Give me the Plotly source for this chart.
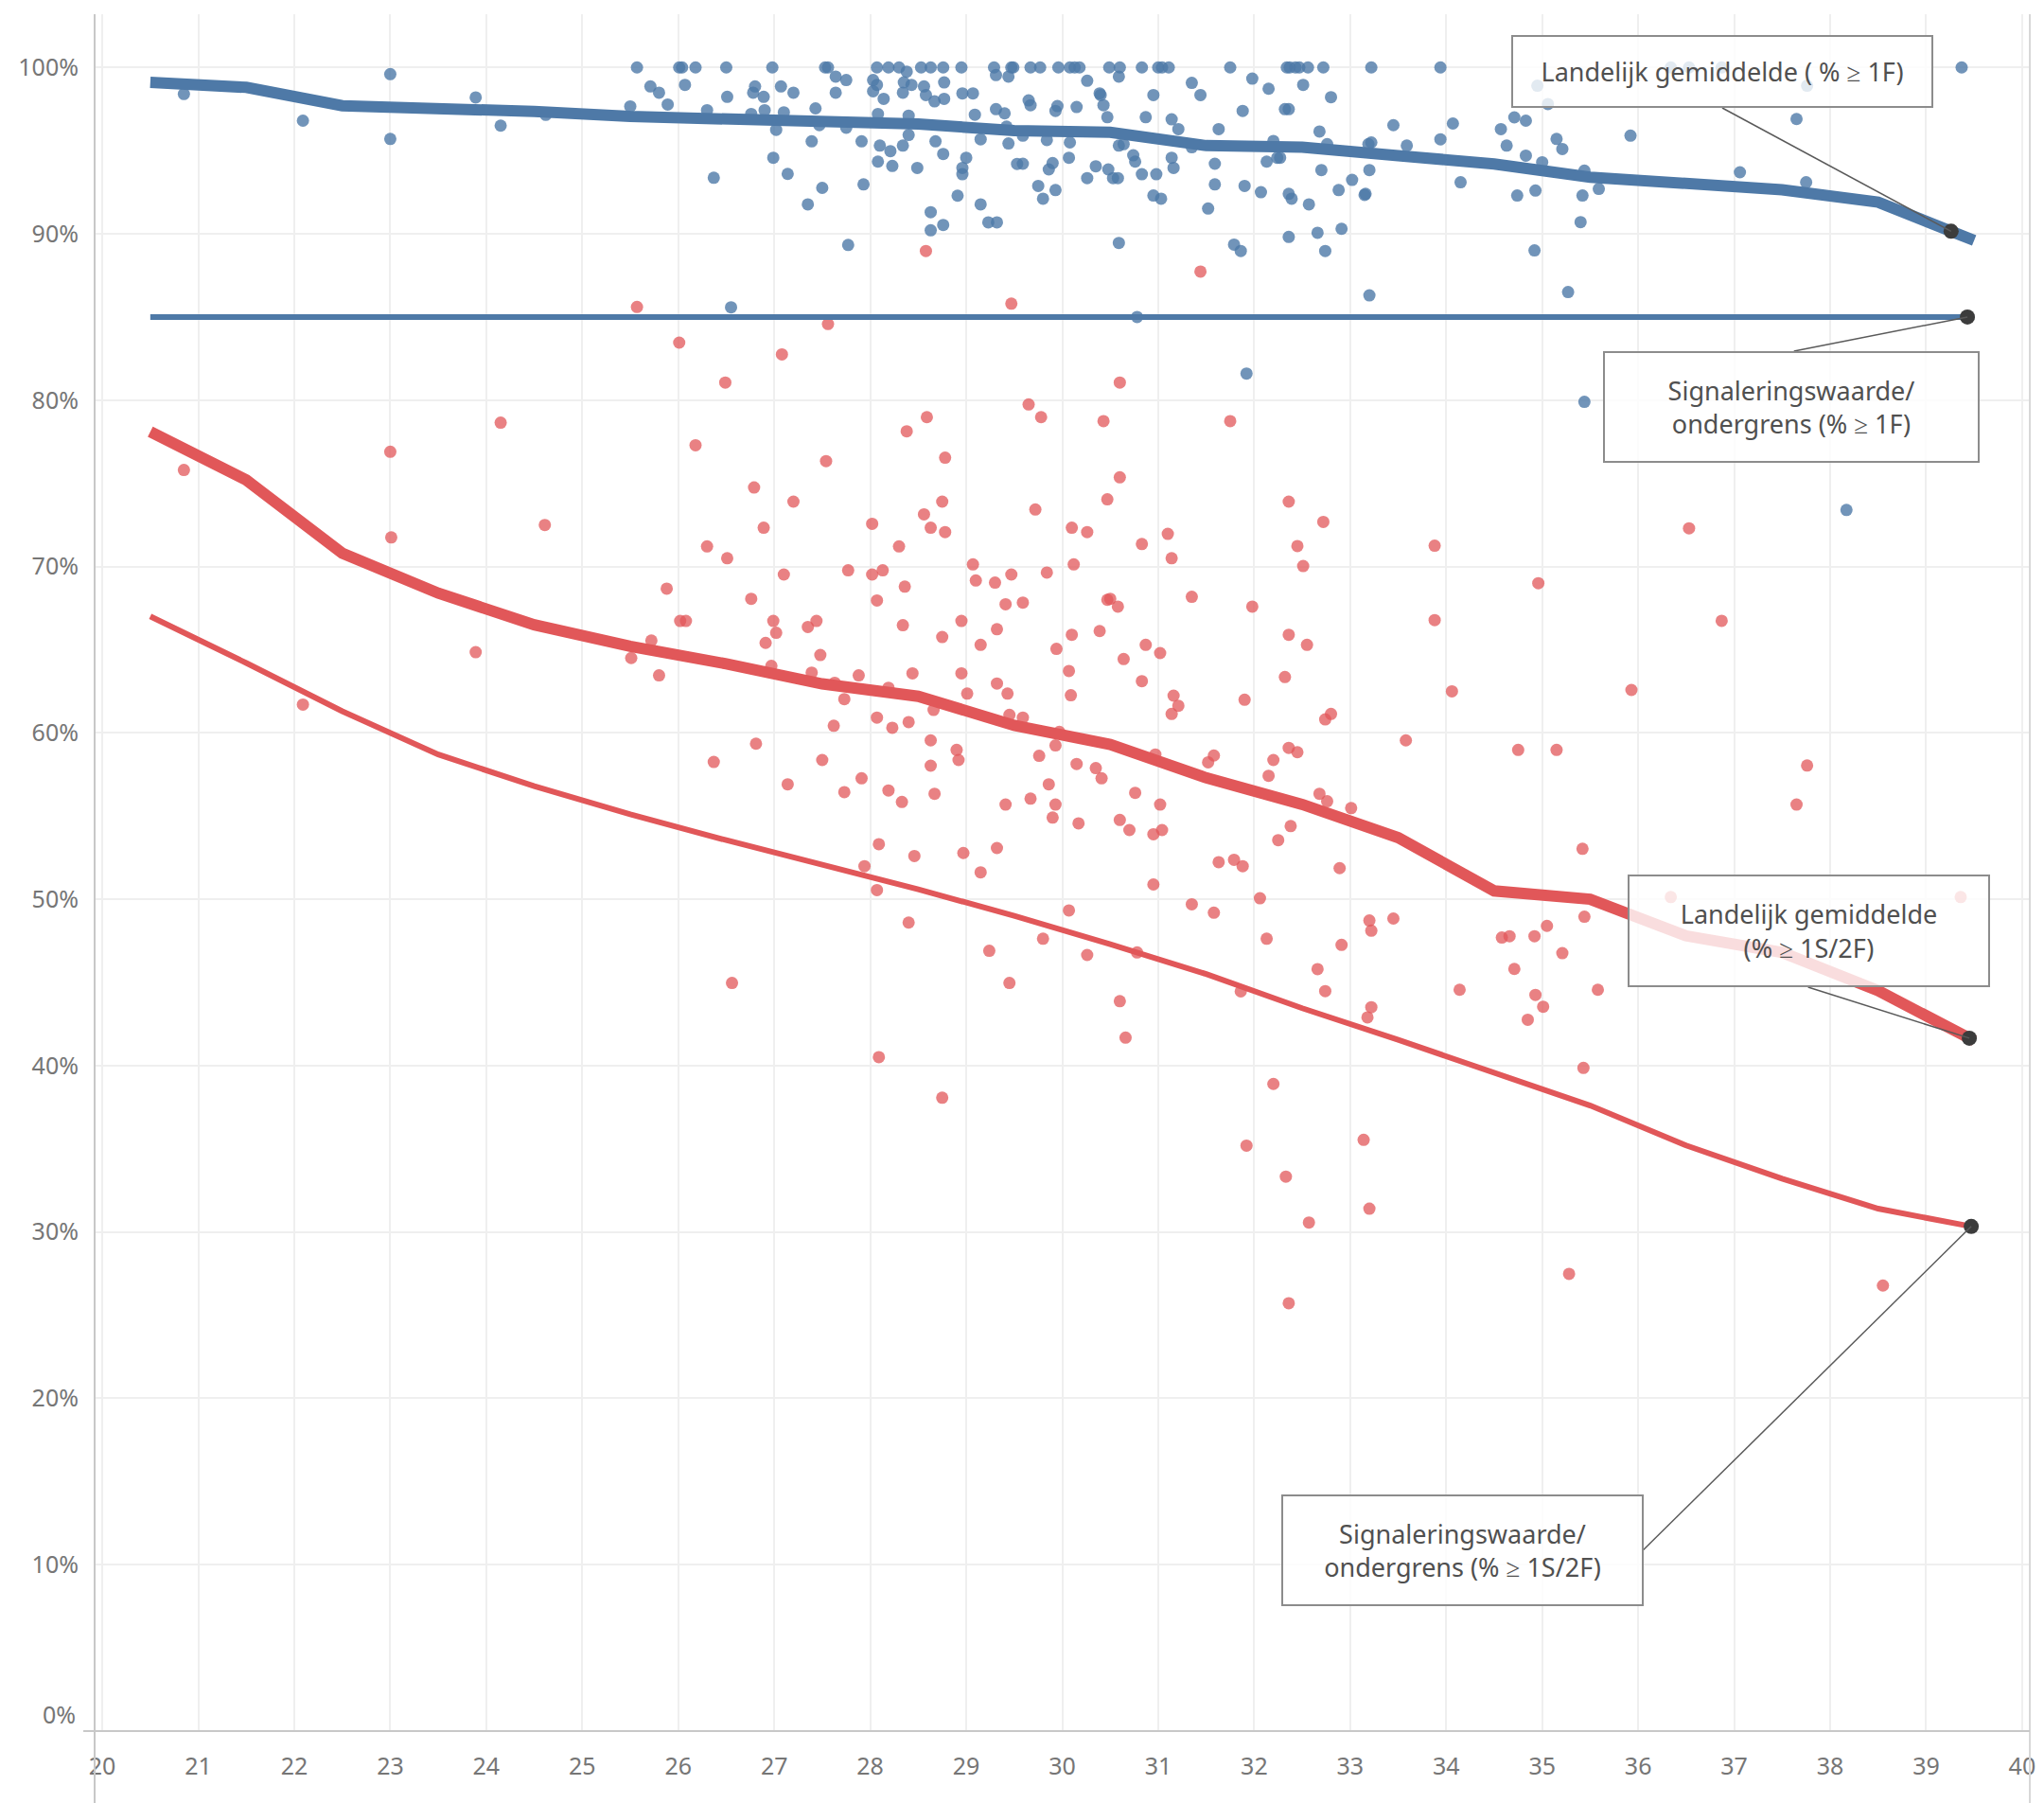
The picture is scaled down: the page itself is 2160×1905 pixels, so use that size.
import numpy as np
import plotly.graph_objects as go

# ---------------- data ----------------
bins = [20.5, 21.5, 22.5, 23.5, 24.5, 25.5, 26.5, 27.5, 28.5, 29.5,
        30.5, 31.5, 32.5, 33.5, 34.5, 35.5, 36.5, 37.5, 38.5, 39.5]

blue_avg = [99.1, 98.8, 97.7, 97.55, 97.35, 97.05, 96.95, 96.8, 96.6, 96.2,
            96.1, 95.3, 95.2, 94.7, 94.2, 93.4, 93.0, 92.65, 91.9, 89.6]
blue_signal = [85.0, 85.0, 85.0, 85.0, 85.0, 85.0, 85.0, 85.0, 85.0, 85.0,
               85.0, 85.0, 85.0, 85.0, 85.0, 85.0, 85.0, 85.0, 85.0, 85.0]
red_avg = [78.1, 75.2, 70.8, 68.4, 66.5, 65.2, 64.15, 62.95, 62.2, 60.45,
           59.3, 57.3, 55.7, 53.7, 50.5, 50.0, 47.8, 46.8, 44.5, 41.5]
red_signal = [67.0, 64.2, 61.3, 58.7, 56.8, 55.1, 53.55, 52.1, 50.6, 49.0,
              47.3, 45.5, 43.45, 41.55, 39.6, 37.6, 35.2, 33.2, 31.4, 30.3]

blue_points = [
    (20.85, 98.4), (22.09, 96.8), (23.0, 99.6), (23.0, 95.7), (23.89, 98.2), (24.15, 96.5), (24.62, 97.15),
    (25.57, 100), (26.01, 100), (26.04, 100), (26.18, 100), (26.5, 100), (26.98, 100), (27.53, 100),
    (27.56, 100), (28.07, 100), (28.19, 100), (28.3, 100), (28.53, 100), (28.63, 100), (28.76, 100),
    (28.95, 100), (29.29, 100), (29.47, 100), (29.49, 100),
    (25.71, 98.86), (25.8, 98.48), (26.07, 98.95), (25.89, 97.77), (25.5, 97.66), (26.3, 97.43),
    (26.51, 98.23), (26.8, 98.86), (26.78, 98.48), (26.89, 98.23), (26.9, 97.43), (27.07, 98.86),
    (27.2, 98.48), (27.1, 97.3), (26.76, 97.2), (27.02, 96.25), (26.99, 94.57), (27.14, 93.6),
    (26.37, 93.37), (27.43, 97.54), (27.47, 96.53), (27.39, 95.56), (27.64, 99.45), (27.75, 99.24),
    (27.64, 98.48), (27.75, 96.38), (27.5, 92.76), (27.35, 91.77), (27.77, 89.33), (27.93, 92.97),
    (27.91, 95.56), (28.03, 99.24), (28.07, 98.95), (28.03, 98.57), (28.14, 98.11), (28.08, 97.2),
    (28.1, 95.3), (28.21, 94.97), (28.08, 94.34), (28.23, 94.08), (28.34, 95.3), (28.4, 95.94),
    (28.4, 97.1), (28.38, 99.75), (28.34, 98.48), (28.35, 99.1), (28.43, 98.95), (28.56, 98.86),
    (28.58, 98.34), (28.67, 97.96), (28.77, 98.11), (28.77, 99.1), (28.49, 93.96), (28.68, 95.56),
    (28.76, 94.8), (28.63, 91.3), (28.63, 90.21), (28.76, 90.53), (28.91, 92.29), (28.96, 93.96),
    (29.0, 94.57), (28.96, 93.58), (28.96, 98.44), (29.07, 98.44), (29.09, 97.16), (29.15, 95.68),
    (29.15, 91.77), (29.23, 90.69), (29.32, 90.69), (29.31, 97.49), (29.4, 97.24), (29.31, 99.54),
    (29.44, 99.45), (29.44, 95.43), (29.42, 96.44), (29.53, 94.2), (26.55, 85.58),
    (29.67, 100), (29.77, 100), (29.96, 100), (30.08, 100), (30.13, 100), (30.18, 100), (30.49, 100),
    (30.6, 100), (30.83, 100), (31.0, 100), (31.04, 100), (31.11, 100), (31.75, 100), (32.34, 100),
    (32.37, 100), (32.43, 100), (32.47, 100), (32.56, 100), (32.72, 100), (33.22, 100), (33.94, 100),
    (30.26, 99.2), (30.59, 99.45), (29.65, 98.02), (29.67, 97.73), (29.93, 97.39), (29.95, 97.68),
    (30.15, 97.62), (30.39, 98.44), (30.4, 98.34), (30.43, 97.73), (30.47, 97.01), (29.59, 95.9),
    (29.84, 95.64), (30.08, 95.49), (30.07, 94.57), (29.59, 94.21), (29.9, 94.25), (29.86, 93.87),
    (29.75, 92.88), (29.8, 92.11), (29.93, 92.63), (30.26, 93.35), (30.35, 94.06), (30.48, 93.87),
    (30.53, 93.35), (30.58, 93.35), (30.59, 95.3), (30.64, 95.39), (30.74, 94.72), (30.76, 94.34),
    (30.83, 93.58), (30.95, 98.34), (30.87, 97.01), (30.98, 93.58), (30.95, 92.3), (31.03, 92.11),
    (31.14, 96.88), (31.21, 96.29), (31.14, 94.57), (31.16, 93.96), (30.59, 89.45), (31.35, 99.07),
    (31.44, 98.34), (31.35, 95.2), (31.63, 96.29), (31.59, 94.21), (31.59, 92.97), (31.52, 91.52),
    (31.79, 89.35), (31.86, 88.97), (31.88, 97.39), (31.98, 99.33), (32.15, 98.72), (31.9, 92.88),
    (32.07, 92.5), (32.13, 94.34), (32.2, 95.58), (32.24, 94.57), (32.27, 94.57), (32.32, 97.49),
    (32.36, 97.49), (32.51, 98.95), (32.36, 92.4), (32.39, 92.11), (32.36, 89.81), (32.57, 91.77),
    (32.66, 90.06), (32.74, 88.97), (32.8, 98.21), (32.68, 96.15), (32.76, 95.39), (32.7, 93.83),
    (32.88, 92.63), (32.91, 90.3), (33.02, 93.24), (33.15, 92.34), (33.16, 92.4), (33.2, 93.83),
    (33.19, 95.39), (33.22, 95.49), (33.2, 86.3), (33.45, 96.53), (33.59, 95.3), (33.94, 95.68),
    (34.07, 96.63), (34.15, 93.1), (34.57, 96.29), (34.63, 95.3), (30.78, 85.0), (31.92, 81.6),
    (34.95, 98.9), (35.06, 97.8), (36.34, 100), (36.53, 100), (36.87, 100), (37.76, 98.9), (39.37, 100),
    (34.71, 97.0), (34.83, 96.8), (34.83, 94.7), (35.0, 94.3), (35.15, 95.7), (35.21, 95.1),
    (35.44, 93.8), (35.59, 92.7), (35.42, 92.3), (34.74, 92.3), (34.93, 92.6), (35.4, 90.7),
    (34.92, 89.0), (35.27, 86.5), (35.92, 95.9), (37.06, 93.7), (37.65, 96.9), (37.75, 93.1),
    (35.44, 79.9), (38.17, 73.4),
]

red_points = [
    (20.85, 75.8), (22.09, 61.7), (23.0, 76.9), (23.01, 71.75), (23.89, 64.85), (24.15, 78.65), (24.61, 72.5),
    (25.57, 85.6), (29.47, 85.8), (27.56, 84.58), (26.01, 83.46), (27.08, 82.75), (26.49, 81.06),
    (26.18, 77.29), (26.79, 74.75), (27.2, 73.9), (26.89, 72.33), (27.54, 76.34), (26.3, 71.21),
    (26.51, 70.5), (27.1, 69.52), (25.88, 68.67), (26.76, 68.06), (26.02, 66.73), (26.08, 66.73),
    (26.99, 66.73), (27.02, 66.02), (26.91, 65.41), (25.72, 65.55), (25.51, 64.5), (25.8, 63.46),
    (27.35, 66.37), (27.44, 66.73), (27.48, 64.68), (26.97, 64.03), (27.39, 63.62), (27.63, 63.01),
    (27.73, 62.03), (27.62, 60.43), (27.88, 63.46), (27.77, 69.77), (28.02, 72.57), (28.02, 69.52),
    (28.13, 69.77), (28.07, 67.96), (28.3, 71.21), (28.36, 68.79), (28.38, 78.13), (28.59, 78.98),
    (28.78, 76.54), (28.56, 73.14), (28.75, 73.9), (28.63, 72.33), (28.78, 72.07), (28.34, 66.47),
    (28.75, 65.76), (28.95, 66.73), (29.07, 70.13), (29.1, 69.16), (29.3, 69.03), (29.47, 69.52),
    (29.41, 67.73), (29.32, 66.23), (29.15, 65.29), (28.44, 63.58), (28.19, 62.71), (28.95, 63.58),
    (29.01, 62.36), (29.32, 62.97), (29.43, 62.36), (29.45, 61.08), (28.66, 61.38), (28.07, 60.92),
    (28.23, 60.31), (28.4, 60.65), (28.63, 59.55), (28.9, 58.98), (28.92, 58.37), (28.63, 58.03),
    (26.81, 59.35), (26.37, 58.25), (27.14, 56.91), (27.5, 58.37), (27.91, 57.27), (27.73, 56.44),
    (28.19, 56.54), (28.33, 55.85), (28.67, 56.34), (29.41, 55.69), (28.58, 88.97), (31.44, 87.73),
    (30.6, 81.06), (29.65, 79.74), (29.78, 78.98), (30.43, 78.74), (31.75, 78.74), (30.6, 75.36),
    (30.47, 74.04), (29.72, 73.43), (30.1, 72.33), (30.26, 72.07), (30.83, 71.35), (31.1, 71.96),
    (31.14, 70.5), (30.12, 70.13), (29.84, 69.64), (29.59, 67.83), (30.47, 68.0), (30.5, 68.06),
    (30.58, 67.59), (31.35, 68.18), (31.98, 67.59), (32.36, 73.9), (32.72, 72.68), (32.45, 71.23),
    (32.51, 70.03), (32.36, 65.9), (32.55, 65.29), (32.32, 63.36), (31.9, 61.99), (30.1, 65.9),
    (30.39, 66.12), (29.94, 65.05), (30.07, 63.72), (30.09, 62.26), (30.87, 65.29), (31.02, 64.8),
    (30.64, 64.44), (30.83, 63.11), (31.16, 62.24), (31.21, 61.63), (31.14, 61.14), (29.59, 60.92),
    (29.93, 59.25), (29.76, 58.62), (29.97, 60.06), (30.15, 58.13), (30.35, 57.88), (30.41, 57.27),
    (29.86, 56.91), (29.67, 56.05), (29.93, 55.69), (30.76, 56.4), (31.02, 55.69), (30.97, 58.7),
    (31.52, 58.23), (31.58, 58.64), (32.2, 58.37), (32.15, 57.42), (32.36, 59.1), (32.45, 58.84),
    (32.74, 60.81), (32.8, 61.14), (32.68, 56.34), (32.76, 55.89), (33.01, 55.48), (33.58, 59.55),
    (33.88, 71.25), (33.88, 66.78),
    (28.09, 53.31), (27.94, 51.99), (28.07, 50.55), (28.46, 52.6), (28.97, 52.78), (29.15, 51.62),
    (29.32, 53.08), (28.4, 48.6), (29.24, 46.9), (29.45, 44.97), (26.56, 44.97), (28.09, 40.51),
    (28.75, 38.07),
    (29.9, 54.91), (30.17, 54.56), (30.6, 54.77), (30.7, 54.16), (30.95, 53.91), (31.04, 54.16),
    (31.63, 52.23), (31.79, 52.37), (31.88, 51.99), (30.95, 50.89), (32.25, 53.55), (32.38, 54.4),
    (32.89, 51.87), (32.06, 50.06), (31.35, 49.7), (31.58, 49.19), (30.07, 49.33), (29.8, 47.63),
    (30.26, 46.65), (30.78, 46.8), (30.6, 43.87), (30.66, 41.68), (31.86, 44.46), (32.13, 47.63),
    (32.66, 45.8), (32.74, 44.48), (32.91, 47.26), (33.2, 48.72), (33.22, 48.11), (33.45, 48.84),
    (33.22, 43.51), (33.18, 42.9), (32.2, 38.9), (33.14, 35.54), (31.92, 35.19), (32.33, 33.33),
    (32.57, 30.57), (33.2, 31.4), (32.36, 25.72),
    (34.06, 62.5), (34.14, 44.56), (34.75, 58.98), (35.15, 58.98), (34.96, 69.0), (34.58, 47.7),
    (34.66, 47.78), (34.92, 47.78), (35.05, 48.4), (34.71, 45.81), (34.93, 44.25), (35.01, 43.54),
    (34.85, 42.76), (35.21, 46.76), (35.28, 27.48), (35.42, 53.03), (35.44, 48.95), (35.43, 39.86),
    (35.58, 44.56), (35.93, 62.58), (36.53, 72.3), (36.87, 66.74), (37.76, 58.04), (37.65, 55.69),
    (38.55, 26.78), (36.34, 50.13), (39.36, 50.13),
]

x_tick_vals = [20, 21, 22, 23, 24, 25, 26, 27, 28, 29, 30, 31, 32, 33, 34, 35, 36, 37, 38, 39, 40]
y_tick_vals = [10, 20, 30, 40, 50, 60, 70, 80, 90, 100]
y_tick_text = ["10%", "20%", "30%", "40%", "50%", "60%", "70%", "80%", "90%", "100%"]

annotation_texts = [
    "Landelijk gemiddelde ( % ≥ 1F)",
    "Signaleringswaarde/<br>ondergrens (% ≥ 1F)",
    "Landelijk gemiddelde<br>(% ≥ 1S/2F)",
    "Signaleringswaarde/<br>ondergrens (% ≥ 1S/2F)",
]
anchor_x = [39.26, 39.43, 39.45, 39.47]

# ---------------- layout geometry ----------------
W, H = 2160, 1905
PL, PR, PT, PB = 100, 2151, 15, 1829
X_RANGE = [19.92, 40.08]
Y_RANGE = [0.0, 103.2]


def px2x(px):
    return X_RANGE[0] + (px - PL) / (PR - PL) * (X_RANGE[1] - X_RANGE[0])


def py2y(py):
    return Y_RANGE[0] + (PB - py) / (PB - PT) * (Y_RANGE[1] - Y_RANGE[0])


BLUE = "#4e79a7"
RED = "#e15759"
FONT = "Noto Sans"
TICK_COLOR = "#767676"

fig = go.Figure()

rx, ry = zip(*red_points)
bx, by = zip(*blue_points)
fig.add_trace(go.Scatter(x=rx, y=ry, mode="markers",
                         marker=dict(size=13, color=RED, opacity=0.75, line=dict(width=0)),
                         hoverinfo="skip", showlegend=False))
fig.add_trace(go.Scatter(x=bx, y=by, mode="markers",
                         marker=dict(size=13, color=BLUE, opacity=0.8, line=dict(width=0)),
                         hoverinfo="skip", showlegend=False))

fig.add_trace(go.Scatter(x=bins, y=red_signal, mode="lines",
                         line=dict(color=RED, width=6), showlegend=False))
fig.add_trace(go.Scatter(x=bins, y=blue_signal, mode="lines",
                         line=dict(color=BLUE, width=6), showlegend=False))
fig.add_trace(go.Scatter(x=bins, y=red_avg, mode="lines",
                         line=dict(color=RED, width=12), showlegend=False))
fig.add_trace(go.Scatter(x=bins, y=blue_avg, mode="lines",
                         line=dict(color=BLUE, width=12), showlegend=False))

series_for_anchor = [blue_avg, blue_signal, red_avg, red_signal]
anchor_y = [float(np.interp(ax_, bins, s)) for ax_, s in zip(anchor_x, series_for_anchor)]
fig.add_trace(go.Scatter(x=anchor_x, y=anchor_y, mode="markers",
                         marker=dict(size=16, color="#3c3c3c"), showlegend=False))

# annotation boxes: (left, top, right, bottom) in pixels and connector start point
boxes = [
    ((1602, 37, 2048, 114), (1825, 114)),
    ((1699, 371, 2097, 489), (1901, 371)),
    ((1725, 924, 2108, 1043), (1916, 1043)),
    ((1358, 1579, 1741, 1697), (1741, 1638)),
]
BW = 2
shapes = []
annotations = []
for (box, start), text, axv, ayv in zip(boxes, annotation_texts, anchor_x, anchor_y):
    l, t, r, b = box
    shapes.append(dict(type="line", xref="x", yref="y",
                       x0=px2x(start[0]), y0=py2y(start[1]), x1=axv, y1=ayv,
                       line=dict(color="#5a5a5a", width=1.5), layer="above"))
    annotations.append(dict(
        x=px2x((l + r) / 2), y=py2y((t + b) / 2), xref="x", yref="y",
        xanchor="center", yanchor="middle", text=text, showarrow=False,
        width=r - l - 2 * BW, height=b - t - 2 * BW, borderpad=0,
        bordercolor="#8c8c8c", borderwidth=BW, bgcolor="rgba(255,255,255,0.8)",
        font=dict(family=FONT, size=27, color="#505050"), align="center", valign="middle"))

# 0% label (placed slightly above the axis line, as in the original)
annotations.append(dict(x=-18 / (PR - PL), xref="paper", xanchor="right",
                        y=py2y(1811), yref="y", yanchor="middle", text="0%",
                        showarrow=False, font=dict(family=FONT, size=25, color=TICK_COLOR)))

# axis / pane lines
shapes.append(dict(type="line", xref="paper", yref="paper", x0=0, x1=0,
                   y0=-(H - PB) / (PB - PT), y1=1, line=dict(color="#c8c8c8", width=2), layer="above"))
shapes.append(dict(type="line", xref="paper", yref="paper", x0=1, x1=1,
                   y0=-(H - PB) / (PB - PT), y1=1, line=dict(color="#d8d8d8", width=2), layer="above"))
shapes.append(dict(type="line", xref="paper", yref="paper", x0=-12 / (PR - PL), x1=1,
                   y0=0, y1=0, line=dict(color="#c8c8c8", width=2), layer="above"))

fig.update_layout(
    width=W, height=H, autosize=False,
    margin=dict(l=PL, r=W - PR, t=PT, b=H - PB, pad=0),
    paper_bgcolor="white", plot_bgcolor="white",
    shapes=shapes, annotations=annotations, showlegend=False,
    font=dict(family=FONT),
)
fig.update_xaxes(range=X_RANGE, tickmode="array", tickvals=x_tick_vals,
                 showgrid=True, gridcolor="#efefef", gridwidth=1.5,
                 zeroline=False, showline=False, ticks="",
                 ticklabelstandoff=20,
                 tickfont=dict(family=FONT, size=25, color=TICK_COLOR))
fig.update_yaxes(range=Y_RANGE, tickmode="array", tickvals=y_tick_vals, ticktext=y_tick_text,
                 showgrid=True, gridcolor="#efefef", gridwidth=1.5,
                 zeroline=False, showline=False, ticks="",
                 ticklabelstandoff=16,
                 tickfont=dict(family=FONT, size=25, color=TICK_COLOR))

fig.write_html("out.html", config={"displayModeBar": False},
               post_script="document.body.style.margin='0';document.body.style.overflow='hidden';")
